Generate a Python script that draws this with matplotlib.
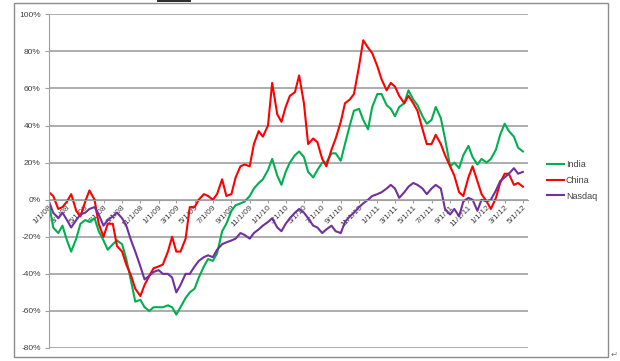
#!/usr/bin/env python3

"""
Cumulative return of India, China and Nasdaq, Jan 2008 - May 2012.
"""

import matplotlib
matplotlib.use("Agg")
import matplotlib.pyplot as plt
from matplotlib.patches import Rectangle
import pandas as pd

# semi-monthly readings (1st and 15th), Jan 2008 .. May 2012, in percent
START = "2008-01-01"

india = [-2, -15, -18, -14, -22, -28, -21, -13, -11, -12,
         -10, -17, -22, -27, -24, -22, -24, -32, -44, -55,
         -54, -58, -60, -58, -58, -58, -57, -58, -62, -58,
         -53, -50, -48, -42, -36, -32, -33, -29, -17, -13,
         -6, -3, -2, -1, 2, 6, 9, 11, 16, 22,
         13, 8, 15, 20, 24, 26, 23, 15, 12, 16,
         20, 20, 25, 25, 21, 30, 40, 48, 49, 43,
         38, 50, 57, 57, 51, 49, 45, 50, 52, 59,
         54, 51, 45, 41, 43, 50, 44, 33, 18, 20,
         17, 24, 29, 23, 19, 22, 20, 22, 27, 35,
         41, 37, 34, 28, 26]

china = [4, 2, -5, -4, -1, 3, -6, -9, -1, 5,
         0, -13, -20, -13, -13, -25, -28, -35, -41, -48,
         -52, -46, -41, -37, -36, -35, -28, -20, -28, -28,
         -21, -4, -4, 0, 3, 2, 0, 3, 11, 2,
         3, 12, 18, 19, 18, 30, 37, 34, 40, 63,
         46, 42, 50, 56, 58, 67, 52, 30, 33, 31,
         22, 18, 27, 33, 42, 52, 54, 57, 72, 86,
         82, 79, 72, 65, 59, 63, 61, 56, 52, 56,
         52, 48, 38, 30, 30, 35, 30, 24, 18, 13,
         4, 2, 12, 18, 10, 3, -1, -5, 1, 9,
         14, 14, 8, 9, 7]

nasdaq = [-1, -7, -10, -7, -11, -15, -11, -8, -7, -5,
          -4, -8, -14, -11, -9, -7, -10, -14, -22, -28,
          -36, -43, -41, -39, -38, -40, -40, -42, -50, -46,
          -40, -40, -36, -33, -31, -30, -31, -27, -24, -23,
          -22, -21, -18, -19, -21, -18, -16, -14, -12, -10,
          -15, -17, -13, -10, -7, -5, -7, -10, -14, -15,
          -18, -16, -14, -17, -18, -12, -9, -7, -4, -2,
          0, 2, 3, 4, 6, 8, 6, 1, 4, 7,
          9, 8, 6, 3, 6, 8, 6, -5, -8, -5,
          -9, -1, 1, 0, -6, 0, -1, 0, 5, 10,
          12, 14, 17, 14, 15]

names = ["India", "China", "Nasdaq"]
colors = ["#00B050", "#FF0000", "#7030A0"]

y_ticks = [-80, -60, -40, -20, 0, 20, 40, 60, 80, 100]
x_end = "2012-05-18"
last_label = "2012-05-01"

W, H = 620, 361


def main():
    dates = pd.date_range(START, periods=len(india), freq="SMS")
    fig = plt.figure(figsize=(W / 100, H / 100), dpi=100)
    ax = fig.add_axes([49 / W, 1 - 348 / H, (528 - 49) / W, (348 - 14.3) / H])

    # axis line crosses at 0%; must be set before tick label styling
    for s in ["top", "right"]:
        ax.spines[s].set_visible(False)
    ax.spines["bottom"].set_position(("data", 0))
    ax.spines["bottom"].set_color("#a0a0a0")
    ax.spines["left"].set_color("#a0a0a0")

    for name, vals, col in zip(names, [india, china, nasdaq], colors):
        ax.plot(dates, vals, color=col, lw=1.5, label=name)

    ax.set_ylim(-80, 100)
    ax.set_xlim(pd.Timestamp(START), pd.Timestamp(x_end))
    ax.set_yticks(y_ticks)
    ax.set_yticklabels([f"{v}%" for v in y_ticks])
    ax.grid(axis="y", color="#a0a0a0", lw=1.2)
    ax.set_axisbelow(True)

    xt = pd.date_range(START, last_label, freq="2MS")
    ax.set_xticks(xt)
    ax.set_xticklabels([f"{d.month}/{d.day}/{d:%y}" for d in xt])

    ax.tick_params(axis="x", length=2, pad=1, labelsize=6,
                   colors="#404040", color="#a0a0a0")
    ax.tick_params(axis="y", length=3, pad=3, labelsize=6,
                   colors="#404040", color="#a0a0a0")
    for lab in ax.get_xticklabels():
        lab.set_rotation(45)
        lab.set_ha("right")
        lab.set_va("top")
        lab.set_rotation_mode("anchor")
    for lab in ax.get_xticklabels() + ax.get_yticklabels():
        lab.set_family("Liberation Sans")

    leg = ax.legend(loc="upper left", bbox_to_anchor=(547 / W, 1 - 160 / H),
                    bbox_transform=fig.transFigure, frameon=False,
                    handlelength=1.9, handletextpad=0.2,
                    labelspacing=0.75, borderpad=0, borderaxespad=0,
                    prop={"family": "Liberation Sans", "size": 6.5})
    for t in leg.get_texts():
        t.set_color("#404040")

    # chart frame and page bits around it
    fig.patches.append(Rectangle((14 / W, 1 - 357 / H), (608 - 14) / W,
                                 (357 - 3) / H, transform=fig.transFigure,
                                 fill=False, edgecolor="#8c8c8c", lw=1))
    fig.patches.append(Rectangle((157 / W, 1 - 1.5 / H), (191 - 157) / W,
                                 1.5 / H, transform=fig.transFigure,
                                 facecolor="#303030", edgecolor="none"))
    fig.text(611 / W, 1 - 354 / H, "\u21b5", fontsize=6, color="#808080",
             ha="left", va="center")

    fig.savefig("out.png", dpi=100)


if __name__ == "__main__":
    main()
